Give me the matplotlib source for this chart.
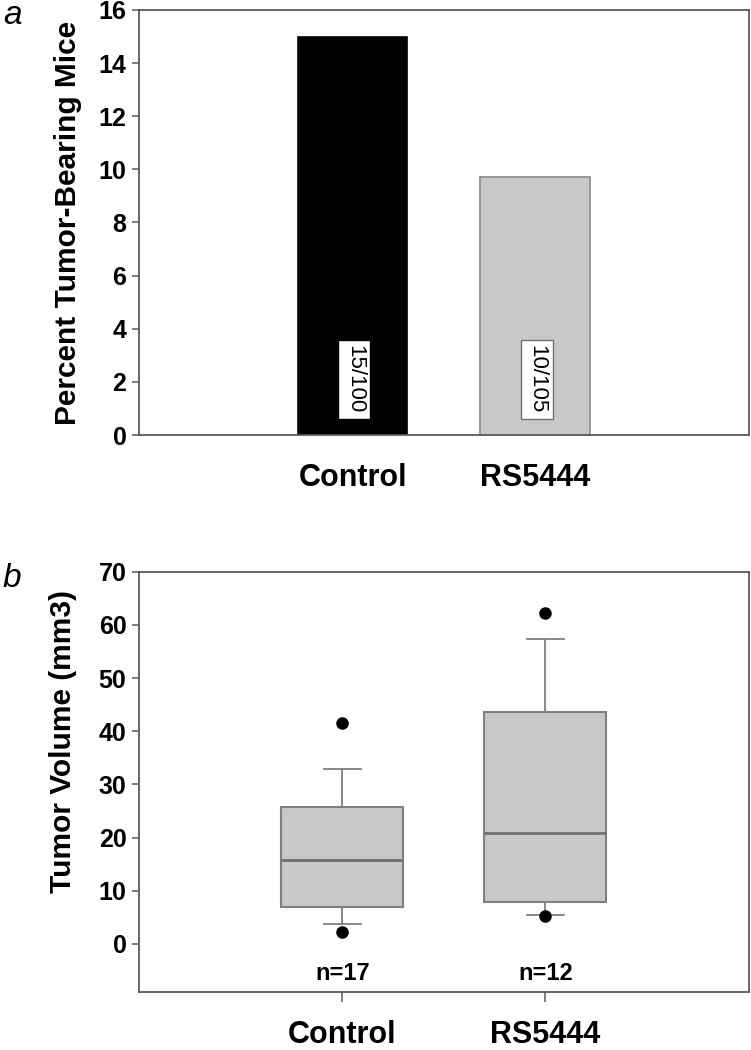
import matplotlib
matplotlib.use('Agg')
import matplotlib.pyplot as plt

plt.rcParams['font.family'] = ['Liberation Sans', 'DejaVu Sans']

# panel a: incidence
groups = ['Control', 'RS5444']
pct_tumor = [15.0, 9.7]
bar_labels = ['15/100', '10/105']
bar_colors = ['#000000', '#c8c8c8']
bar_edges = ['#000000', '#8a8a8a']

# panel b: tumor volume box stats
q1 = [7.0, 7.8]
med = [15.7, 20.8]
q3 = [25.7, 43.7]
whislo = [3.8, 5.5]
whishi = [32.9, 57.3]
fliers = [[41.5, 2.3], [62.2, 5.3]]
n_labels = ['n=17', 'n=12']

spine_col = '#5a5a5a'
box_edge = '#808080'

fig = plt.figure(figsize=(7.51, 10.50), dpi=100)

# ---- panel a
ax1 = fig.add_axes([0.185, 0.5857, 0.812, 0.4048])
pos = [1, 2]
ax1.bar(pos, pct_tumor, width=0.6, color=bar_colors, edgecolor=bar_edges, linewidth=1.2)
for x, lab, ec in zip(pos, bar_labels, ['#000000', '#707070']):
    ax1.text(x + 0.01, 2.1, lab, rotation=-90, ha='center', va='center', fontsize=16,
             bbox=dict(boxstyle='square,pad=0.25', facecolor='white', edgecolor=ec, linewidth=1))
ax1.set_xlim(-0.17, 3.17)
ax1.set_ylim(0, 16)
ax1.set_yticks(range(0, 17, 2))
ax1.set_xticks(pos)
ax1.set_xticklabels(groups, fontsize=22, fontweight='bold')
ax1.tick_params(axis='x', length=0, pad=20)
ax1.tick_params(axis='y', labelsize=18, length=5, width=1.1, color=spine_col, pad=4)
for t in ax1.get_yticklabels():
    t.set_fontweight('bold')
ax1.set_ylabel('Percent Tumor-Bearing Mice', fontsize=21.5, fontweight='bold', labelpad=12)
for s in ax1.spines.values():
    s.set_color(spine_col)
    s.set_linewidth(1.3)

# ---- panel b
ax2 = fig.add_axes([0.185, 0.0555, 0.812, 0.4])
stats = []
for i in range(2):
    stats.append(dict(q1=q1[i], med=med[i], q3=q3[i], whislo=whislo[i],
                      whishi=whishi[i], fliers=fliers[i]))
ax2.bxp(stats, positions=pos, widths=0.6, patch_artist=True,
        boxprops=dict(facecolor='#c8c8c8', edgecolor=box_edge, linewidth=1.5),
        medianprops=dict(color='#707070', linewidth=2),
        whiskerprops=dict(color=box_edge, linewidth=1.3),
        capprops=dict(color=box_edge, linewidth=1.3),
        capwidths=0.18,
        flierprops=dict(marker='o', markerfacecolor='black', markeredgecolor='black', markersize=8))
for x, lab in zip(pos, n_labels):
    ax2.text(x, -5.5, lab, ha='center', va='center', fontsize=17, fontweight='bold')
ax2.set_xlim(0, 3)
ax2.set_ylim(-9, 70)
ax2.set_yticks(range(0, 71, 10))
ax2.set_xticks(pos)
ax2.set_xticklabels(groups, fontsize=22, fontweight='bold')
ax2.tick_params(axis='x', length=7, width=1.1, color=spine_col, pad=13)
ax2.tick_params(axis='y', labelsize=18, length=5, width=1.1, color=spine_col, pad=4)
for t in ax2.get_yticklabels():
    t.set_fontweight('bold')
ax2.set_ylabel('Tumor Volume (mm3)', fontsize=21.5, fontweight='bold', labelpad=12)
ax2.yaxis.set_label_coords(-0.101, 0.596)
for s in ax2.spines.values():
    s.set_color(spine_col)
    s.set_linewidth(1.3)

fig.text(0.004, 0.985, 'a', fontsize=24, style='italic', va='center')
fig.text(0.004, 0.449, 'b', fontsize=24, style='italic', va='center')

fig.savefig('out.png', dpi=100)
